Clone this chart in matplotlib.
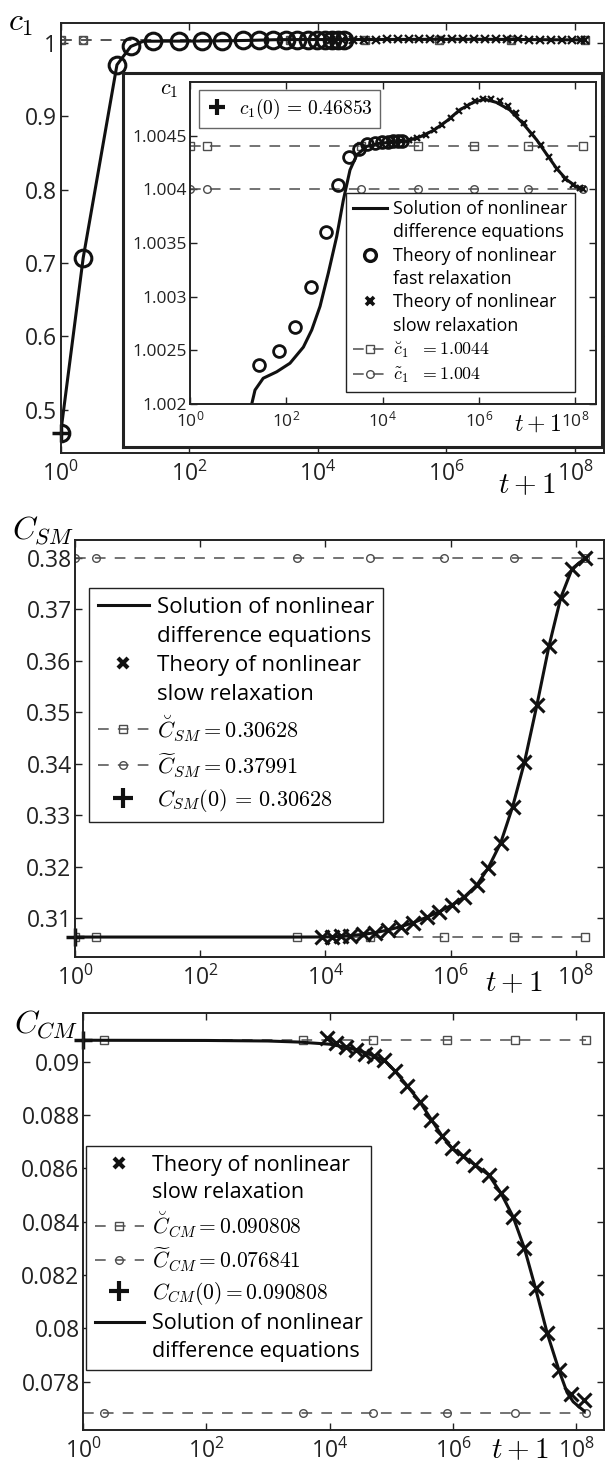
import numpy as np
import matplotlib
matplotlib.use("Agg")
import matplotlib.pyplot as plt
from matplotlib.lines import Line2D
from matplotlib.ticker import NullLocator, FixedLocator, FuncFormatter

plt.rcParams["font.family"] = ["Open Sans", "DejaVu Sans"]
plt.rcParams["mathtext.fontset"] = "cm"

W, H = 605, 1466

# ---------------- data (x given as log10(t+1)) ----------------
# panel 1: c1
c1_line_lt = [0, 0.35, 0.875, 1.09, 1.282, 1.35, 1.52, 1.80, 2.076, 2.354, 2.528,
              2.70, 2.872, 3.046, 3.184, 3.322, 3.462, 3.67, 3.946, 4.216, 4.50,
              4.78, 5.06, 5.34, 5.60, 5.88, 6.12, 6.36, 6.64, 6.92, 7.20, 7.40,
              7.62, 7.82, 8.04, 8.16]
c1_line = [0.46853, 0.707, 0.970, 0.995, 1.0020, 1.00213, 1.00224, 1.00230,
           1.00238, 1.00253, 1.00269, 1.00291, 1.00322, 1.00356, 1.00390,
           1.00418, 1.00432, 1.00440, 1.00443, 1.00444, 1.00445, 1.00449,
           1.00455, 1.00464, 1.00474, 1.00481, 1.00484, 1.00481, 1.00474,
           1.00461, 1.00446, 1.00433, 1.00419, 1.00409, 1.00402, 1.00400]
c1_fast_lt = [0, 0.35, 0.875, 1.09, 1.44, 1.84, 2.19, 2.51, 2.83, 3.08, 3.30,
              3.50, 3.68, 3.84, 3.98, 4.11, 4.22, 4.32, 4.40]
c1_fast = [0.46853, 0.707, 0.970, 0.995, 1.00236, 1.00249, 1.00272, 1.00309,
           1.00360, 1.00404, 1.00430, 1.00438, 1.00442, 1.00443, 1.00444,
           1.00444, 1.00445, 1.00445, 1.00445]
c1_slow_lt = [4.20, 4.38, 4.55, 4.72, 4.90, 5.07, 5.24, 5.41, 5.58, 5.75, 5.92,
              6.09, 6.26, 6.43, 6.60, 6.77, 6.94, 7.11, 7.28, 7.45, 7.62, 7.79,
              7.96, 8.10, 8.16]
c1_slow = [1.00444, 1.00445, 1.00446, 1.00448, 1.00451, 1.00455, 1.00460,
           1.00466, 1.00473, 1.00478, 1.00482, 1.00484, 1.00484, 1.00482,
           1.00478, 1.00471, 1.00462, 1.00452, 1.00441, 1.00430, 1.00419,
           1.00410, 1.00404, 1.00401, 1.00400]
c1_ref_lt = [0, 0.35, 3.56, 4.74, 5.89, 7.01, 8.16]
c1_check = 1.0044
c1_tilde = 1.004
c1_init = 0.46853

# panel 2: C_SM
sm_line_lt = [0, 1, 2, 3, 3.5, 3.95, 4.25, 4.6, 4.8, 5.0, 5.2, 5.4, 5.62, 5.82,
              6.02, 6.22, 6.42, 6.6, 6.8, 6.99, 7.18, 7.38, 7.57, 7.76, 7.94, 8.14]
sm_line = [0.30628, 0.30628, 0.30628, 0.30628, 0.30628, 0.30629, 0.30640,
           0.30680, 0.30715, 0.30765, 0.30830, 0.30905, 0.31015, 0.31120,
           0.31250, 0.31410, 0.31640, 0.31970, 0.32460, 0.33160, 0.34030,
           0.35150, 0.36280, 0.37230, 0.37790, 0.37991]
sm_slow_lt = [3.95, 4.10, 4.25, 4.40, 4.60, 4.80, 5.00, 5.20, 5.40, 5.62, 5.82,
              6.02, 6.22, 6.42, 6.60, 6.80, 6.99, 7.18, 7.38, 7.57, 7.76, 7.94, 8.14]
sm_slow = [0.30628, 0.30632, 0.30640, 0.30655, 0.30680, 0.30715, 0.30765,
           0.30830, 0.30905, 0.31015, 0.31120, 0.31250, 0.31410, 0.31640,
           0.31970, 0.32460, 0.33160, 0.34030, 0.35150, 0.36280, 0.37230,
           0.37790, 0.37991]
sm_ref_lt = [0, 0.34, 3.55, 4.72, 5.89, 7.01, 8.15]
sm_check = 0.30628
sm_tilde = 0.37991
sm_init = 0.30628

# panel 3: C_CM
cm_line_lt = [0, 2, 3, 3.5, 4.0, 4.3, 4.6, 4.9, 5.065, 5.255, 5.46, 5.65, 5.82,
              5.985, 6.17, 6.36, 6.58, 6.78, 6.975, 7.16, 7.34, 7.53, 7.72,
              7.85, 7.95, 8.05, 8.13]
cm_line = [0.090808, 0.090800, 0.090780, 0.090740, 0.090660, 0.090530,
           0.090330, 0.090030, 0.089640, 0.089110, 0.088510, 0.087830,
           0.087230, 0.086760, 0.086450, 0.086130, 0.085760, 0.085070,
           0.084190, 0.083000, 0.081500, 0.079810, 0.078430, 0.077600,
           0.077250, 0.077050, 0.076900]
cm_slow_lt = [3.95, 4.11, 4.27, 4.42, 4.58, 4.72, 4.88, 5.065, 5.255, 5.46,
              5.65, 5.82, 5.985, 6.17, 6.36, 6.58, 6.78, 6.975, 7.16, 7.34,
              7.53, 7.72, 7.91, 8.12]
cm_slow = [0.09088, 0.09069, 0.09056, 0.09044, 0.09031, 0.09022, 0.09007,
           0.08964, 0.08911, 0.08851, 0.08783, 0.08723, 0.08676, 0.08645,
           0.08613, 0.08576, 0.08507, 0.08419, 0.08300, 0.08150, 0.07981,
           0.07843, 0.07755, 0.07733]
cm_ref_lt = [0, 0.345, 3.57, 4.705, 5.9, 7.0, 8.16]
cm_check = 0.090808
cm_tilde = 0.076841
cm_init = 0.090808


def tt(lt):
    return 10.0 ** np.asarray(lt)


fig = plt.figure(figsize=(W / 100, H / 100), dpi=100)


def px_axes(l, t, r, b):
    return fig.add_axes([l / W, 1 - b / H, (r - l) / W, (b - t) / H])


def style(ax, yticks, fs, xmax=8.45, pad=6):
    ax.set_xscale("log")
    ax.set_xlim(1, 10 ** xmax)
    ax.xaxis.set_major_locator(FixedLocator([1, 1e2, 1e4, 1e6, 1e8]))
    ax.xaxis.set_minor_locator(NullLocator())
    ax.xaxis.set_major_formatter(FuncFormatter(
        lambda v, p: r"$\mathregular{10^{%d}}$" % round(np.log10(v))))
    ax.yaxis.set_major_locator(FixedLocator(yticks))
    ax.yaxis.set_major_formatter(FuncFormatter(lambda v, p: "%g" % round(v, 6)))
    ax.tick_params(direction="in", top=True, right=True, length=5, width=1,
                   labelsize=fs, colors="#222222")
    ax.tick_params(axis="x", pad=pad)
    ax.tick_params(axis="y", pad=2.5)
    for s in ax.spines.values():
        s.set_linewidth(1.4)
        s.set_color("#222222")


DASH = dict(color="#4d4d4d", lw=1.1, dashes=(7, 6), mfc="none", mec="#4d4d4d",
            ms=5.5, mew=1.0)
LEG = dict(frameon=True, fancybox=False, framealpha=1, edgecolor="#222222",
           borderaxespad=0, handletextpad=0.35, borderpad=0.4)
blank = Line2D([], [], ls="none", marker="none")

# ================= panel 1 =================
ax1 = px_axes(60.7, 23, 604, 453)
style(ax1, [0.5, 0.6, 0.7, 0.8, 0.9, 1.0], 16.5)
ax1.set_ylim(0.441, 1.027)
ax1.plot(tt(c1_ref_lt), [c1_check] * len(c1_ref_lt), marker="s", **DASH)
ax1.plot(tt(c1_ref_lt), [c1_tilde] * len(c1_ref_lt), marker="o", **DASH)
ax1.plot(tt(c1_line_lt), c1_line, color="#111111", lw=2.2)
ax1.plot(tt(c1_fast_lt), c1_fast, ls="none", marker="o", ms=12, mfc="none",
         mec="#111111", mew=2.2)
ax1.plot(tt(c1_slow_lt), c1_slow, ls="none", marker="x", ms=6, mec="#111111",
         mew=1.6)
ax1.plot([1], [c1_init], ls="none", marker="+", ms=13, mec="#111111",
         mew=2.5, clip_on=False)
fig.text(8 / W, 1 - 31 / H, r"$c_1$", fontsize=23, ha="left", va="baseline")
fig.text(527 / W, 1 - 486 / H, r"$t+1$", fontsize=21, ha="center", va="center")

# inset frame
frame = px_axes(122.7, 73.3, 602, 446.7)
frame.set_xticks([])
frame.set_yticks([])
frame.set_facecolor("white")
for s in frame.spines.values():
    s.set_linewidth(2.2)
    s.set_color("#222222")
frame.set_zorder(2)

axi = px_axes(190, 82, 596, 404)
axi.set_zorder(3)
style(axi, [1.002, 1.0025, 1.003, 1.0035, 1.004, 1.0045], 12.5, xmax=8.43, pad=4.5)
axi.set_ylim(1.002, 1.005)
i_chk, = axi.plot(tt(c1_ref_lt), [c1_check] * len(c1_ref_lt), marker="s", **DASH)
i_tl, = axi.plot(tt(c1_ref_lt), [c1_tilde] * len(c1_ref_lt), marker="o", **DASH)
i_line, = axi.plot(tt(c1_line_lt), c1_line, color="#111111", lw=2.2)
axi.plot(tt(c1_fast_lt), c1_fast, ls="none", marker="o", ms=8.5,
         mfc="none", mec="#111111", mew=2.0)
axi.plot(tt(c1_slow_lt), c1_slow, ls="none", marker="x", ms=5,
         mec="#111111", mew=1.6)
fig.text(169 / W, 1 - 90 / H, r"$c_1$", fontsize=16, ha="center", va="center",
         zorder=5)
fig.text(538 / W, 1 - 425 / H, r"$t+1$", fontsize=17, ha="center", va="center",
         zorder=5)

leg_i0 = axi.legend([Line2D([], [], ls="none", marker="+", ms=11, mew=3,
                            mec="#111111")],
                    [r"$c_1(0)\,=\,0.46853$"], loc="upper left",
                    bbox_to_anchor=(199 / W, 1 - 90 / H),
                    bbox_transform=fig.transFigure, fontsize=14,
                    handlelength=1.2, frameon=True, fancybox=False,
                    framealpha=1, edgecolor="#666666", borderaxespad=0,
                    handletextpad=0.5, borderpad=0.35)
axi.add_artist(leg_i0)
fast_h = Line2D([], [], ls="none", marker="o", ms=8.5, mfc="none",
                mec="#111111", mew=2.4)
slow_h = Line2D([], [], ls="none", marker="x", ms=6, mec="#111111", mew=2.6)
axi.legend([i_line, blank, fast_h, blank, slow_h, blank, i_chk, i_tl],
           ["Solution of nonlinear", "difference equations",
            "Theory of nonlinear", "fast relaxation",
            "Theory of nonlinear", "slow relaxation",
            r"$\breve{c}_1\ \ {=}1.0044$", r"$\tilde{c}_1\ \ {=}1.004$"],
           loc="upper left", bbox_to_anchor=(346 / W, 1 - 193 / H),
           bbox_transform=fig.transFigure, fontsize=12.8, handlelength=1.9,
           labelspacing=0.3, **LEG)

# ================= panel 2 =================
ax2 = px_axes(75, 540, 604, 957)
style(ax2, [0.31, 0.32, 0.33, 0.34, 0.35, 0.36, 0.37, 0.38], 16.5)
ax2.set_ylim(0.3024, 0.3835)
s_chk, = ax2.plot(tt(sm_ref_lt), [sm_check] * len(sm_ref_lt), marker="s", **DASH)
s_tl, = ax2.plot(tt(sm_ref_lt), [sm_tilde] * len(sm_ref_lt), marker="o", **DASH)
s_line, = ax2.plot(tt(sm_line_lt), sm_line, color="#111111", lw=2.2)
ax2.plot(tt(sm_slow_lt), sm_slow, ls="none", marker="x", ms=9.5,
         mec="#111111", mew=2.2)
ax2.plot([1], [sm_init], ls="none", marker="+", ms=13, mec="#111111",
         mew=2.5, clip_on=False)
slow_h2 = Line2D([], [], ls="none", marker="x", ms=7, mec="#111111", mew=3)
plus_h = Line2D([], [], ls="none", marker="+", ms=14, mec="#111111", mew=3)
ax2.legend([s_line, blank, slow_h2, blank, s_chk, s_tl, plus_h],
           ["Solution of nonlinear", "difference equations",
            "Theory of nonlinear", "slow relaxation",
            r"$\breve{C}_{SM}{=}0.30628$", r"$\widetilde{C}_{SM}{=}0.37991$",
            r"$C_{SM}(0)\,=\,0.30628$"],
           loc="upper left", bbox_to_anchor=(89 / W, 1 - 588 / H),
           bbox_transform=fig.transFigure, fontsize=16, handlelength=2.3,
           labelspacing=0.36, **LEG)
fig.text(12 / W, 1 - 539 / H, r"$C_{SM}$", fontsize=23, ha="left", va="baseline")
fig.text(514 / W, 1 - 984 / H, r"$t+1$", fontsize=21, ha="center", va="center")

# ================= panel 3 =================
ax3 = px_axes(83, 1013, 604, 1430)
style(ax3, [0.078, 0.08, 0.082, 0.084, 0.086, 0.088, 0.09], 16.5)
ax3.set_ylim(0.07619, 0.09183)
c_chk, = ax3.plot(tt(cm_ref_lt), [cm_check] * len(cm_ref_lt), marker="s",
                  markevery=slice(1, None), **DASH)
c_tl, = ax3.plot(tt(cm_ref_lt), [cm_tilde] * len(cm_ref_lt), marker="o",
                 markevery=slice(1, None), **DASH)
c_line, = ax3.plot(tt(cm_line_lt), cm_line, color="#111111", lw=2.2)
ax3.plot(tt(cm_slow_lt), cm_slow, ls="none", marker="x", ms=9.5,
         mec="#111111", mew=2.2)
ax3.plot([1], [cm_init], ls="none", marker="+", ms=13, mec="#111111", mew=2.5,
         clip_on=False)
ax3.legend([slow_h2, blank, c_chk, c_tl, plus_h, c_line, blank],
           ["Theory of nonlinear", "slow relaxation",
            r"$\breve{C}_{CM}{=}0.090808$", r"$\widetilde{C}_{CM}{=}0.076841$",
            r"$C_{CM}(0){=}0.090808$",
            "Solution of nonlinear", "difference equations"],
           loc="upper left", bbox_to_anchor=(86 / W, 1 - 1146 / H),
           bbox_transform=fig.transFigure, fontsize=15.5, handlelength=2.3,
           labelspacing=0.3, **LEG)
fig.text(14 / W, 1 - 1033 / H, r"$C_{CM}$", fontsize=23, ha="left", va="baseline")
fig.text(520 / W, 1 - 1451 / H, r"$t+1$", fontsize=21, ha="center", va="center")

fig.savefig("out.png", dpi=100)
